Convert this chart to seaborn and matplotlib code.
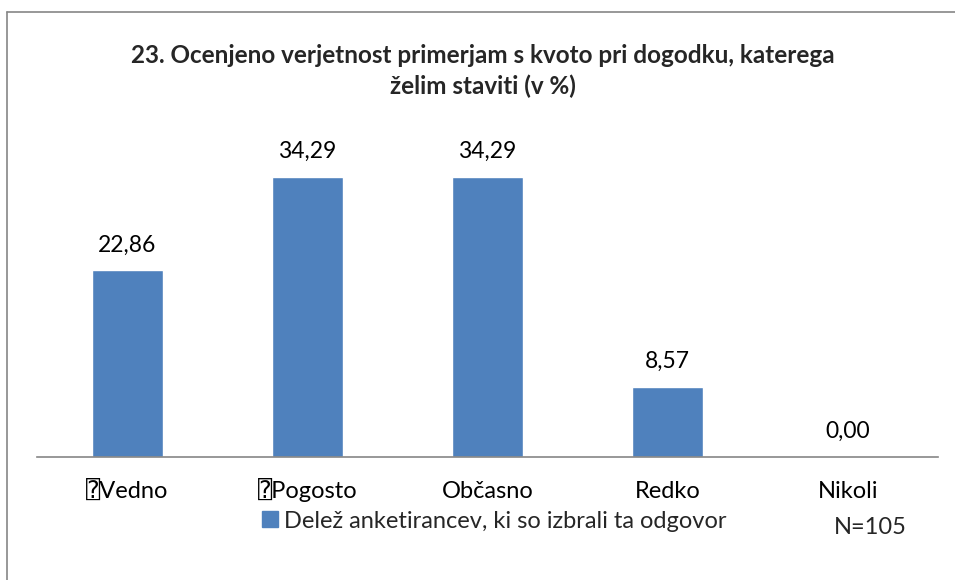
import numpy as np
import pandas as pd
import seaborn as sns
import matplotlib.pyplot as plt
from matplotlib.lines import Line2D

# data
categories = ["\u2370Vedno", "\u2370Pogosto", "Občasno", "Redko", "Nikoli"]
shares = [22.86, 34.29, 34.29, 8.57, 0.00]
value_labels = ["22,86", "34,29", "34,29", "8,57", "0,00"]

title = "23. Ocenjeno verjetnost primerjam s kvoto pri dogodku, katerega\nželim staviti (v %)"
legend_label = "Delež anketirancev, ki so izbrali ta odgovor"
n_note = "N=105"

bar_color = "#4F81BD"

sns.set_theme(style="white")
plt.rcParams['font.family'] = ['Lato', 'DejaVu Sans', 'DejaVu Sans Mono']

df = pd.DataFrame({"odgovor": categories, "delez": shares})

fig = plt.figure(figsize=(9.55, 5.8), dpi=100)
W, H = 955, 580
ax = fig.add_axes([37 / W, 1 - 457 / H, (938 - 37) / W, (457 - 130) / H])

sns.barplot(data=df, x="odgovor", y="delez", color=bar_color, width=0.395,
            saturation=1, ax=ax)
ax.set_ylim(0, 40)
ax.set_xlim(-0.5, len(categories) - 0.5)

# value labels above bars (baseline ~19px above the bar top)
for i, (v, lab) in enumerate(zip(shares, value_labels)):
    ax.annotate(lab, (i, v), xytext=(0, 13.5), textcoords="offset points",
                ha="center", va="baseline", fontsize=16.5, color="black")

# axes styling: only the baseline
for side in ["top", "right", "left"]:
    ax.spines[side].set_visible(False)
ax.spines["bottom"].set_color("#868686")
ax.spines["bottom"].set_linewidth(1.2)
ax.set_yticks([])
ax.set_xlabel("")
ax.set_ylabel("")
ax.tick_params(axis="x", length=0, pad=29.5, labelsize=17, labelcolor="black")
# align category labels on their baseline so the box glyph doesn't shift them
for t in ax.get_xticklabels():
    t.set_verticalalignment("baseline")

# title
fig.text(483 / W, 1 - 71 / H, title, ha="center", va="center",
         fontsize=17.5, fontweight="bold", linespacing=1.35)

# legend
handle = Line2D([], [], marker="s", linestyle="none", markersize=12,
                color=bar_color)
fig.legend([handle], [legend_label], loc="center", frameon=False,
           bbox_to_anchor=(492 / W, 1 - 521 / H), fontsize=17,
           handletextpad=0.1, handlelength=1.0)

fig.text(870 / W, 1 - 528 / H, n_note, ha="center", va="center", fontsize=17)

# outer frame of the chart object
fig.add_artist(Line2D([7 / W, 7 / W], [0, 1 - 12 / H], transform=fig.transFigure,
                      color="#868686", linewidth=1.2))
fig.add_artist(Line2D([7 / W, 1], [1 - 12 / H, 1 - 12 / H], transform=fig.transFigure,
                      color="#868686", linewidth=1.2))

fig.savefig("out.png", dpi=100)
